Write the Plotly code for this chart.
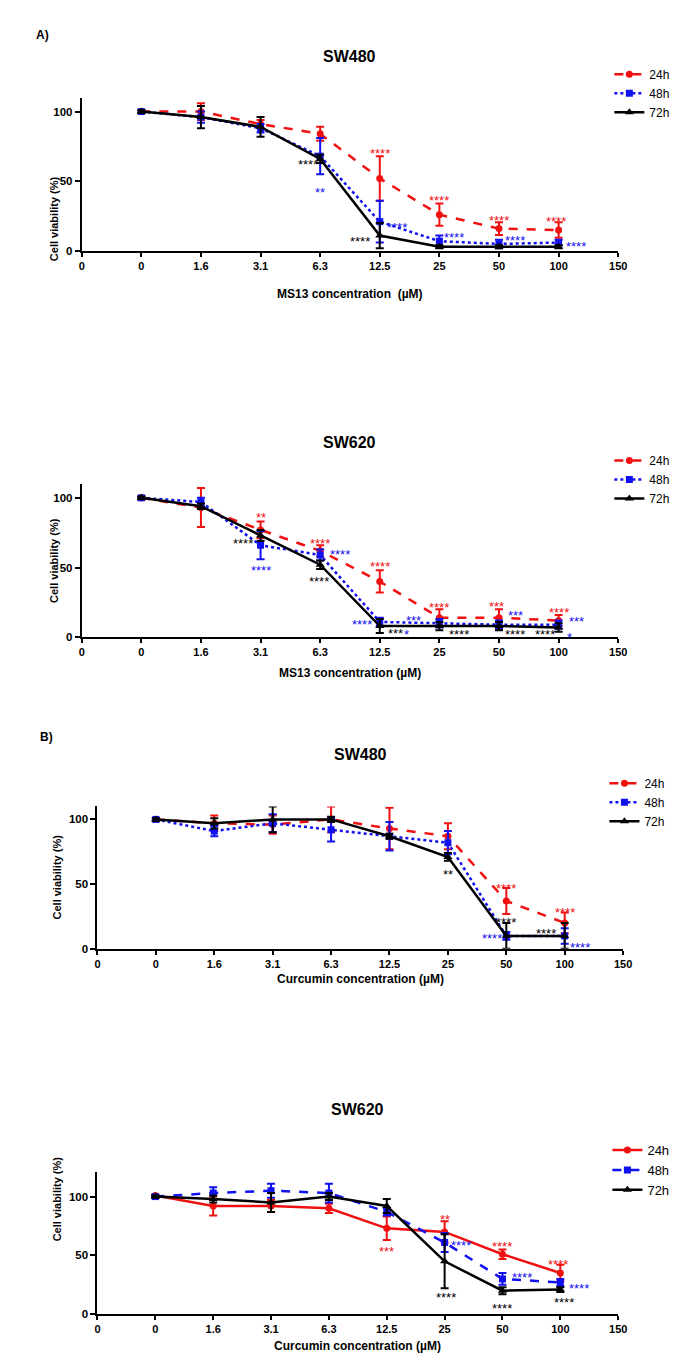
import plotly.graph_objects as go

# tick labels on the (evenly spaced) concentration axis
tick_labels = ["0", "0", "1.6", "3.1", "6.3", "12.5", "25", "50", "100", "150"]
conc = ["0", "1.6", "3.1", "6.3", "12.5", "25", "50", "100"]
hours = ["24h", "48h", "72h"]

# A) MS13 - SW480
ms13_sw480_24 = [100, 100, 91, 84, 52, 26, 16, 15]
ms13_sw480_24_err = [1, 6, 3, 5, 16, 8, 4.5, 5.5]
ms13_sw480_48 = [100, 96, 88, 68, 21, 7, 5, 6]
ms13_sw480_48_err = [1, 4, 3, 13, 15, 4, 3, 2]
ms13_sw480_72 = [100, 96, 89, 66, 11, 3, 3, 3]
ms13_sw480_72_err = [1, 8, 7, 3, 9, 1, 1, 1]

# A) MS13 - SW620
ms13_sw620_24 = [100, 93, 77, 62, 40, 14, 14, 12]
ms13_sw620_24_err = [1, 14, 6, 4, 8, 6, 6, 4]
ms13_sw620_48 = [100, 97, 66, 59, 11, 10, 9, 9]
ms13_sw620_48_err = [1, 3, 10, 4, 3, 3, 3, 3]
ms13_sw620_72 = [100, 94, 73, 52, 8, 8, 8, 7]
ms13_sw620_72_err = [1, 2, 4, 3, 5, 3, 3, 3]

# B) Curcumin - SW480
cur_sw480_24 = [100, 97, 96, 100, 93, 87, 37, 20]
cur_sw480_24_err = [1, 6, 7, 10, 16, 10, 10, 8]
cur_sw480_48 = [100, 91, 97, 92, 87, 82, 10, 10]
cur_sw480_48_err = [1, 4, 7, 9, 11, 9, 3, 6]
cur_sw480_72 = [100, 97, 100, 100, 87, 71, 10, 10]
cur_sw480_72_err = [1, 4, 10, 2, 2, 3, 10, 10]

# B) Curcumin - SW620
cur_sw620_24 = [101, 92, 92, 90, 73, 70, 51, 35]
cur_sw620_24_err = [1, 8, 5, 4, 10, 9, 4, 7]
cur_sw620_48 = [100, 103, 105, 103, 87, 61, 30, 27]
cur_sw620_48_err = [1, 5, 6, 8, 3, 8, 5, 3]
cur_sw620_72 = [100, 98, 95, 100, 92, 45, 20, 21]
cur_sw620_72_err = [1, 3, 8, 3, 6, 23, 3, 2]

# significance marks: (text, x index, y value, series)
stars_ms13_sw480 = [
    ("****", 5.0, 72.8, 0), ("****", 6.0, 38.7, 0), ("****", 7.0, 24.6, 0), ("****", 7.96, 23.9, 0),
    ("****", 3.79, 64.9, 2), ("**", 4.0, 45.1, 1), ("****", 5.29, 19.6, 1), ("****", 4.67, 9.5, 2),
    ("****", 6.25, 12.2, 1), ("****", 6.24, -3.3, 2), ("****", 7.27, 10.7, 1), ("****", 6.98, -4.3, 2),
    ("****", 8.3, 6.4, 1), ("****", 8.31, -3.1, 2),
]
stars_ms13_sw620 = [
    ("**", 3.0, 89, 0), ("****", 4.0, 70.3, 0), ("****", 4.34, 62.4, 1), ("****", 2.71, 70.3, 2),
    ("****", 3.0, 51, 1), ("****", 3.98, 43, 2), ("****", 5.0, 53.6, 0), ("****", 4.7, 11.7, 1),
    ("***", 5.57, 15, 1), ("***", 5.26, 5.5, 2), ("*", 5.44, 4.5, 1), ("*", 5.15, -5.5, 2),
    ("****", 6.0, 23.9, 0), ("****", 6.33, 4.8, 2), ("***", 6.96, 25, 0), ("***", 7.27, 18.4, 1),
    ("****", 7.27, 4.5, 2), ("****", 7.77, 4.5, 2), ("****", 8.0, 20.8, 0), ("***", 8.3, 13.9, 1),
    ("*", 8.19, 2.9, 1),
]
stars_cur_sw480 = [
    ("**", 6.0, 60.6, 2), ("****", 7.0, 50.1, 0), ("****", 7.0, 23.7, 2), ("****", 6.75, 10.9, 1),
    ("****", 8.01, 30.8, 0), ("****", 7.68, 15.3, 2), ("****", 8.27, 4.1, 1),
]
stars_cur_sw620 = [
    ("**", 6.0, 83.8, 0), ("***", 5.0, 56.4, 0), ("****", 6.28, 61.7, 1), ("****", 6.02, 17.6, 2),
    ("****", 7.0, 61.2, 0), ("****", 7.33, 34.4, 1), ("****", 7.0, 8.4, 2), ("****", 7.96, 45.5, 0),
    ("****", 8.33, 25.4, 1), ("****", 8.07, 13.1, 2),
]

FONT = "Liberation Sans, Arial, sans-serif"
RED, BLUE, BLACK = "#f01010", "#1010f0", "#000000"
COLORS = [RED, BLUE, BLACK]
SYMBOLS = ["circle", "square", "triangle-up"]
MSIZE = [7, 7, 8]

W, H = 687, 1367


def px_x(v):
    return v / W


def px_y(v):
    return 1 - v / H


panels = [
    dict(title="SW480", xlabel="MS13 concentration  (\u00b5M)",
         data=[(ms13_sw480_24, ms13_sw480_24_err), (ms13_sw480_48, ms13_sw480_48_err), (ms13_sw480_72, ms13_sw480_72_err)],
         dashes=["dash", "dot", "solid"], stars=stars_ms13_sw480, legsize=12,
         x0=72, x1=618, ybot=244, ytop=90, ymax=110, leg=(609, 52), ytitle_y=167, ytitle_x=35, xtitle_y=279),
    dict(title="SW620", xlabel="MS13 concentration (\u00b5M)",
         data=[(ms13_sw620_24, ms13_sw620_24_err), (ms13_sw620_48, ms13_sw620_48_err), (ms13_sw620_72, ms13_sw620_72_err)],
         dashes=["dash", "dot", "solid"], stars=stars_ms13_sw620, legsize=12,
         x0=72, x1=618, ybot=632, ytop=478, ymax=110, leg=(609, 440), ytitle_y=555, ytitle_x=35, xtitle_y=668),
    dict(title="SW480", xlabel="Curcumin concentration (\u00b5M)",
         data=[(cur_sw480_24, cur_sw480_24_err), (cur_sw480_48, cur_sw480_48_err), (cur_sw480_72, cur_sw480_72_err)],
         dashes=["dash", "dot", "solid"], stars=stars_cur_sw480, legsize=12,
         x0=88, x1=623, ybot=945, ytop=802, ymax=110, leg=(604, 764), ytitle_y=873, ytitle_x=39, xtitle_y=983),
    dict(title="SW620", xlabel="Curcumin concentration (\u00b5M)",
         data=[(cur_sw620_24, cur_sw620_24_err), (cur_sw620_48, cur_sw620_48_err), (cur_sw620_72, cur_sw620_72_err)],
         dashes=["solid", "dash", "solid"], stars=stars_cur_sw620, legsize=13,
         x0=88, x1=618, ybot=1312, ytop=1169, ymax=121, leg=(607, 1132), ytitle_y=1241, ytitle_x=39, xtitle_y=1352),
]

fig = go.Figure()
annotations = []
layout = {}
xpos = list(range(1, len(conc) + 1))

for i, p in enumerate(panels, start=1):
    sfx = "" if i == 1 else str(i)
    leg = "legend" if i == 1 else f"legend{i}"
    for k, (vals, err) in enumerate(p["data"]):
        fig.add_trace(go.Scatter(
            x=xpos, y=vals, name=hours[k], mode="lines+markers",
            xaxis="x" + sfx, yaxis="y" + sfx, legend=leg, cliponaxis=False,
            line=dict(color=COLORS[k], width=2.5, dash=p["dashes"][k]),
            marker=dict(color=COLORS[k], symbol=SYMBOLS[k], size=MSIZE[k]),
            error_y=dict(type="data", array=err, color=COLORS[k], thickness=2, width=4),
        ))
    layout["xaxis" + sfx] = dict(
        domain=[px_x(p["x0"]), px_x(p["x1"])], anchor="y" + sfx, range=[0, 9],
        tickmode="array", tickvals=list(range(10)), ticktext=tick_labels,
        showline=True, linecolor="black", linewidth=2, ticks="outside", ticklen=4,
        tickwidth=2, tickcolor="black", showgrid=False, zeroline=False,
        tickfont=dict(family=FONT, size=11, color="black", weight="bold"),
    )
    layout["yaxis" + sfx] = dict(
        domain=[px_y(p["ybot"]), px_y(p["ytop"])], anchor="x" + sfx, range=[0, p["ymax"]],
        tickvals=[0, 50, 100], showline=True, linecolor="black", linewidth=2,
        ticks="outside", ticklen=5, tickwidth=2, tickcolor="black",
        showgrid=False, zeroline=False,
        tickfont=dict(family=FONT, size=11.5, color="black", weight="bold"),
    )
    layout[leg] = dict(
        x=px_x(p["leg"][0]), y=px_y(p["leg"][1]), xanchor="left", yanchor="top",
        bgcolor="rgba(0,0,0,0)", font=dict(family=FONT, size=p["legsize"], color="black"),
    )
    xc = (p["x0"] + p["x1"]) / 2
    annotations.append(dict(text=p["title"], x=px_x(xc), y=px_y(p["ytop"] - 52), xref="paper", yref="paper",
                            showarrow=False, font=dict(family=FONT, size=16, color="black", weight="bold")))
    annotations.append(dict(text=p["xlabel"], x=px_x(xc), y=px_y(p["xtitle_y"]), xref="paper", yref="paper",
                            showarrow=False, borderpad=0,
                            font=dict(family=FONT, size=12, color="black", weight="bold")))
    annotations.append(dict(text="Cell viability (%)", x=px_x(p["ytitle_x"]), y=px_y(p["ytitle_y"]),
                            xref="paper", yref="paper", showarrow=False, textangle=-90,
                            font=dict(family=FONT, size=11, color="black", weight="bold")))
    for txt, sx, sy, k in p["stars"]:
        annotations.append(dict(text=txt, x=sx, y=sy, xref="x" + sfx, yref="y" + sfx, showarrow=False,
                                yshift=-4, font=dict(family=FONT, size=13, color=COLORS[k])))

annotations.append(dict(text="A)", x=px_x(23), y=px_y(18), xref="paper", yref="paper", showarrow=False,
                        font=dict(family=FONT, size=12, color="black", weight="bold")))
annotations.append(dict(text="B)", x=px_x(27), y=px_y(732), xref="paper", yref="paper", showarrow=False,
                        font=dict(family=FONT, size=12, color="black", weight="bold")))

fig.update_layout(
    width=W, height=H, margin=dict(l=0, r=0, t=0, b=0),
    paper_bgcolor="white", plot_bgcolor="white",
    annotations=annotations, **layout,
)

fig.write_html("out.html")
